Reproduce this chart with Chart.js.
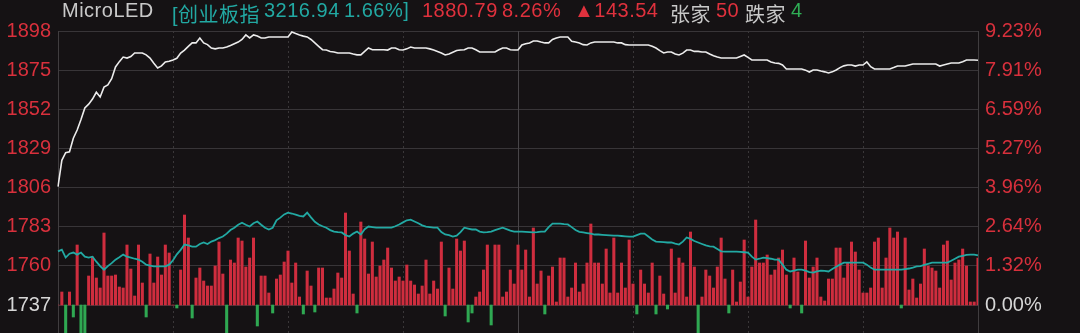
<!DOCTYPE html>
<html>
<head>
<meta charset="utf-8">
<script src="https://cdn.jsdelivr.net/npm/chart.js@4.4.1/dist/chart.umd.min.js"></script>
<style>
    html, body { margin: 0; padding: 0; background: #151214; overflow: hidden; }
    #wrap { position: relative; width: 1080px; height: 333px; }
    #header span {
        position: absolute; top: -1px; z-index: 2;
        font: 20px "Liberation Sans", "Noto Sans CJK SC", sans-serif;
        letter-spacing: 0.5px;
        white-space: nowrap;
    }
    .grey { color: #c9c9c9; }
    .teal { color: #22a9a3; }
    .red { color: #e0313d; }
    .green { color: #2fae55; }
</style>
</head>
<body>
<div id="wrap">
    <div id="header"></div>
    <canvas id="trendChart"></canvas>
</div>
<script>
// --- Dados ---
const basePrice = 1737.25;
const priceTicks = [1737, 1760, 1783, 1806, 1829, 1852, 1875, 1898];
const pctLabels = ['0.00%', '1.32%', '2.64%', '3.96%', '5.27%', '6.59%', '7.91%', '9.23%'];
const timeMarks = [30, 60, 90, 120, 150, 180, 210];   // 120 = pausa do almoço

const priceLine = [
    1806.5, 1822.0, 1826.5, 1827.0, 1835.0, 1839.8, 1846.0, 1852.8, 1855.0, 1858.0,
    1862.0, 1859.2, 1865.0, 1866.3, 1870.0, 1876.9, 1880.0, 1882.7, 1882.1, 1883.0,
    1885.1, 1885.1, 1885.1, 1884.0, 1882.1, 1879.0, 1876.3, 1877.5, 1879.8, 1880.2,
    1881.0, 1882.0, 1885.0, 1886.8, 1889.0, 1891.0, 1891.0, 1893.9, 1891.0, 1890.0,
    1888.0, 1887.5, 1888.0, 1888.0, 1888.6, 1889.5, 1890.5, 1891.5, 1893.0, 1895.7,
    1893.9, 1895.7, 1895.0, 1893.9, 1893.9, 1894.5, 1894.5, 1894.5, 1894.5, 1894.5,
    1894.5, 1897.4, 1896.5, 1895.7, 1895.0, 1894.5, 1893.0, 1891.0, 1889.0, 1887.0,
    1886.8, 1886.0, 1885.7, 1885.1, 1885.1, 1885.1, 1885.1, 1884.5, 1884.0, 1884.0,
    1886.0, 1888.0, 1887.0, 1887.0, 1887.0, 1887.0, 1886.8, 1888.0, 1888.0, 1887.0,
    1886.8, 1887.5, 1888.6, 1888.0, 1888.0, 1888.0, 1888.0, 1887.5, 1886.8, 1886.0,
    1885.1, 1883.9, 1884.5, 1885.5, 1886.5, 1886.8, 1887.0, 1888.0, 1888.0, 1887.0,
    1885.7, 1885.7, 1885.7, 1885.7, 1885.7, 1887.0, 1888.0, 1888.0, 1887.0, 1886.8,
    1886.8, 1889.8, 1890.5, 1891.0, 1892.1, 1892.1, 1891.5, 1891.0, 1891.0, 1893.0,
    1893.9, 1894.5, 1894.5, 1894.5, 1892.0, 1891.5, 1891.0, 1890.0, 1889.8, 1891.0,
    1891.5, 1891.5, 1891.5, 1891.5, 1891.5, 1891.5, 1891.0, 1891.0, 1890.0, 1889.8,
    1889.8, 1889.8, 1889.8, 1889.8, 1889.8, 1889.0, 1888.0, 1886.5, 1885.1, 1885.7,
    1885.7, 1884.5, 1883.9, 1885.0, 1886.8, 1886.8, 1886.0, 1886.0, 1885.7, 1885.7,
    1884.5, 1883.5, 1882.7, 1882.1, 1882.1, 1882.1, 1882.1, 1882.1, 1883.0, 1883.9,
    1882.5, 1881.0, 1881.0, 1881.0, 1881.0, 1881.0, 1879.8, 1879.2, 1879.0, 1878.0,
    1875.7, 1875.7, 1875.7, 1875.7, 1875.7, 1875.0, 1873.9, 1875.1, 1875.1, 1874.5,
    1874.0, 1873.3, 1874.0, 1875.1, 1876.5, 1877.5, 1878.0, 1878.0, 1877.4, 1878.0,
    1878.0, 1879.8, 1877.0, 1875.7, 1875.7, 1875.7, 1875.7, 1875.7, 1876.5, 1877.4,
    1877.4, 1877.4, 1878.0, 1878.6, 1878.6, 1878.6, 1878.6, 1878.6, 1878.6, 1878.6,
    1877.4, 1878.0, 1878.6, 1879.2, 1879.2, 1879.2, 1880.0, 1881.0, 1881.0, 1881.0,
    1880.79
];

// 创业板指, variação em %
const indexPct = [
    1.80, 1.86, 1.59, 1.72, 1.76, 1.69, 1.76, 1.62, 1.59, 1.62,
    1.45, 1.30, 1.18, 1.30, 1.40, 1.52, 1.60, 1.69, 1.62, 1.59,
    1.55, 1.52, 1.45, 1.35, 1.32, 1.29, 1.29, 1.29, 1.29, 1.35,
    1.50, 1.70, 1.85, 2.03, 2.00, 1.96, 1.96, 2.05, 2.10, 2.05,
    2.13, 2.18, 2.25, 2.30, 2.40, 2.52, 2.60, 2.70, 2.77, 2.70,
    2.64, 2.75, 2.81, 2.70, 2.60, 2.54, 2.60, 2.85, 2.94, 3.05,
    3.11, 3.08, 3.04, 3.00, 2.98, 3.11, 2.95, 2.80, 2.71, 2.65,
    2.60, 2.52, 2.47, 2.45, 2.44, 2.35, 2.30, 2.40, 2.47, 2.37,
    2.55, 2.64, 2.62, 2.60, 2.60, 2.60, 2.60, 2.60, 2.65, 2.71,
    2.78, 2.85, 2.87, 2.81, 2.75, 2.68, 2.64, 2.62, 2.60, 2.60,
    2.45, 2.37, 2.35, 2.30, 2.33, 2.45, 2.60, 2.57, 2.54, 2.54,
    2.47, 2.44, 2.45, 2.47, 2.52, 2.56, 2.60, 2.55, 2.50, 2.47,
    2.47, 2.47, 2.46, 2.45, 2.44, 2.45, 2.47, 2.47, 2.62, 2.74,
    2.74, 2.74, 2.72, 2.71, 2.62, 2.52, 2.46, 2.44, 2.42, 2.40,
    2.37, 2.37, 2.36, 2.35, 2.34, 2.33, 2.33, 2.32, 2.31, 2.30,
    2.30, 2.35, 2.40, 2.40, 2.30, 2.20, 2.13, 2.12, 2.11, 2.10,
    2.10, 2.06, 2.03, 2.13, 2.27, 2.22, 2.15, 2.10, 2.05, 2.00,
    1.97, 1.96, 1.88, 1.80, 1.79, 1.79, 1.79, 1.79, 1.78, 1.77,
    1.76, 1.62, 1.52, 1.55, 1.59, 1.57, 1.55, 1.52, 1.52, 1.35,
    1.18, 1.12, 1.15, 1.18, 1.18, 1.15, 1.10, 1.08, 1.12, 1.15,
    1.14, 1.12, 1.20, 1.28, 1.35, 1.42, 1.42, 1.42, 1.42, 1.42,
    1.42, 1.35, 1.25, 1.18, 1.18, 1.18, 1.18, 1.18, 1.18, 1.18,
    1.18, 1.20, 1.22, 1.25, 1.29, 1.30, 1.34, 1.38, 1.42, 1.42,
    1.42, 1.42, 1.42, 1.48, 1.55, 1.62, 1.65, 1.68, 1.69, 1.69,
    1.66
];

// volume por minuto (negativo = barra verde)
const volume = [
    0, 13, -40, 13, -12, 60, -40, -40, 29, 48,
    27, 17, 72, 29, 29, 30, 18, 17, 60, 36,
    9, 60, 22, -12, 51, 22, 48, 30, 60, 52,
    0, -3, 35, 90, 67, -13, 27, 37, 24, 19,
    19, 39, 63, 31, -40, 45, 42, 67, 64, 38,
    47, 67, -21, 29, 29, 12, -8, 26, 30, 43,
    54, 22, 42, 8, -9, 34, 19, -7, 37, 37,
    7, 7, 16, 32, 27, 92, 54, 11, -8, 83,
    66, 31, 63, 28, 39, 45, 57, 37, 24, 28,
    24, 40, 24, 20, 11, 19, 45, 11, 24, 16,
    63, -11, 37, 16, 66, 54, 64, -17, -8, 8,
    13, 35, 60, -20, 60, 60, 8, 13, 35, 21,
    60, 35, 55, 8, 77, 21, 34, -9, 29, 38,
    3, 47, 47, 8, 17, 42, 13, 21, 42, 81,
    42, 42, 21, 56, 12, 67, 12, 42, 17, 65,
    21, -9, 35, 21, 12, 42, -9, 29, 11, -4,
    56, 12, 47, 42, 8, 73, 38, -40, 8, 35,
    29, 17, 38, 67, 26, -8, 35, 3, 23, 65,
    8, 38, 85, 42, 42, 50, 30, 35, 47, 55,
    30, -3, 47, 33, -8, 64, 27, 38, 47, 8,
    4, 26, 26, 57, 57, 27, 42, 63, 53, 35,
    12, 12, 17, 63, 67, 17, 47, 77, 67, 73,
    -3, 67, 15, 26, 7, 21, 56, 39, 37, 34,
    17, 60, 64, 25, 42, 45, 56, 39, 3, 3,
    47
];

const minutes = priceLine.map((_, i) => i);

// --- Cabeçalho: [texto, cor, posição x] ---
const headerParts = [
    ['MicroLED', 'grey', 62],
    ['[创业板指', 'teal', 172],
    ['3216.94', 'teal', 264],
    ['1.66%]', 'teal', 344],
    ['1880.79', 'red', 422],
    ['8.26%', 'red', 502],
    ['▲143.54', 'red', 574],
    ['张家', 'grey', 670],
    ['50', 'red', 716],
    ['跌家', 'grey', 745],
    ['4', 'green', 791]
];
document.getElementById('header').innerHTML = headerParts
    .map(p => `<span class="${p[1]}" style="left:${p[2]}px">${p[0]}</span>`).join('');

// --- Escalas ---
const pxBelowZero = 28;
const priceMax = 1898;
const priceMin = 1737 - pxBelowZero * (1898 - 1737) / 274;
const toPct = p => (p - basePrice) / basePrice * 100;

// --- Linhas verticais de horário ---
const timeGrid = {
    id: 'timeGrid',
    beforeDatasetsDraw(chart) {
        const { ctx, chartArea, scales } = chart;
        ctx.save();
        ctx.lineWidth = 1;
        timeMarks.forEach(m => {
            const x = Math.round(scales.x.getPixelForValue(m)) + 0.5;
            ctx.strokeStyle = m === 120 ? '#484548' : '#3a3739';
            ctx.setLineDash(m === 120 ? [] : [2, 3]);
            ctx.beginPath();
            ctx.moveTo(x, chartArea.top);
            ctx.lineTo(x, chartArea.bottom);
            ctx.stroke();
        });
        ctx.restore();
    }
};

const tickFont = { family: 'Liberation Sans', size: 20 };

const ctx = document.getElementById('trendChart').getContext('2d');
const trendChart = new Chart(ctx, {
    data: {
        labels: minutes,
        datasets: [
            {
                type: 'line',
                data: priceLine,
                yAxisID: 'yPrice',
                borderColor: '#ececec',
                borderWidth: 1.6,
                pointRadius: 0,
                tension: 0,
                order: 1
            },
            {
                type: 'line',
                data: indexPct,
                yAxisID: 'yPct',
                borderColor: '#22a9a3',
                borderWidth: 1.8,
                pointRadius: 0,
                tension: 0,
                order: 2
            },
            {
                type: 'bar',
                data: volume,
                yAxisID: 'yVol',
                backgroundColor: volume.map(v => v >= 0 ? '#cf2d3e' : '#2fa852'),
                barThickness: 2.4,
                order: 3
            }
        ]
    },
    options: {
        responsive: true,
        maintainAspectRatio: false,
        animation: false,
        layout: { padding: { top: 31, left: 0, right: 0, bottom: 0 } },
        plugins: { legend: { display: false }, tooltip: { enabled: false } },
        scales: {
            x: {
                type: 'category',
                display: false,
                offset: false
            },
            yPrice: {
                position: 'left',
                min: priceMin, max: priceMax,
                afterBuildTicks: s => { s.ticks = priceTicks.map(v => ({ value: v })); },
                afterFit: s => { s.width = 58; s.paddingTop = 0; s.paddingBottom = 0; },
                grid: { color: '#383538', lineWidth: 1, drawTicks: false },
                border: { display: true, color: '#403d3f' },
                ticks: {
                    padding: 7,
                    font: tickFont,
                    color: c => c.index === 0 ? '#d6d6d6' : '#d8303c',
                    callback: v => String(v)
                }
            },
            yPct: {
                position: 'right',
                min: toPct(priceMin), max: toPct(priceMax),
                afterBuildTicks: s => { s.ticks = priceTicks.map(v => ({ value: toPct(v) })); },
                afterFit: s => { s.width = 102; s.paddingTop = 0; s.paddingBottom = 0; },
                grid: { display: false, drawTicks: false },
                border: { display: true, color: '#403d3f' },
                ticks: {
                    padding: 7,
                    font: tickFont,
                    color: c => c.index === 0 ? '#d6d6d6' : '#d8303c',
                    callback: (v, i) => pctLabels[i]
                }
            },
            yVol: {
                display: false,
                min: -pxBelowZero, max: 274
            }
        }
    },
    plugins: [timeGrid]
});
</script>
</body>
</html>
